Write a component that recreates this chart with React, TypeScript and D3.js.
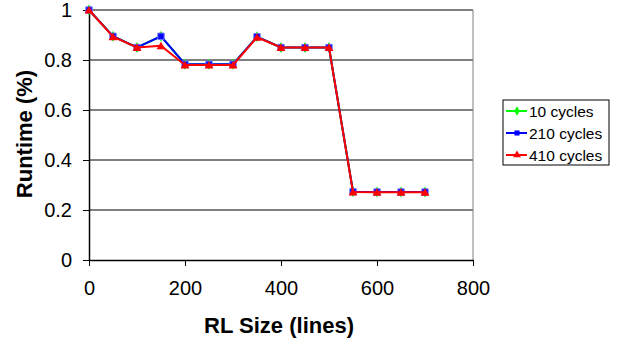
import { useEffect, useRef } from "react";
import * as d3 from "d3";

const sizes = [0, 50, 100, 150, 200, 250, 300, 350, 400, 450, 500, 550, 600, 650, 700];
const cycles10 = [1, 0.895, 0.85, 0.895, 0.783, 0.783, 0.783, 0.893, 0.85, 0.85, 0.85, 0.273, 0.272, 0.272, 0.272];
const cycles210 = [1, 0.895, 0.85, 0.895, 0.783, 0.783, 0.783, 0.893, 0.85, 0.85, 0.85, 0.273, 0.272, 0.272, 0.272];
const cycles410 = [1, 0.893, 0.85, 0.857, 0.78, 0.78, 0.78, 0.891, 0.85, 0.85, 0.85, 0.272, 0.271, 0.271, 0.271];
const xTicks = [0, 200, 400, 600, 800];
const yTicks = [0, 0.2, 0.4, 0.6, 0.8, 1];

const series = [
  { name: "10 cycles", values: cycles10, color: "#00ff00", marker: "diamond" },
  { name: "210 cycles", values: cycles210, color: "#0000ff", marker: "square" },
  { name: "410 cycles", values: cycles410, color: "#ff0000", marker: "triangle" },
];

export default function App() {
  const svgRef = useRef<SVGSVGElement | null>(null);

  useEffect(() => {
    if (!svgRef.current) return;
    const svg = d3.select(svgRef.current);
    svg.selectAll("*").remove();

    const left = 89, right = 473, top = 10, bottom = 260;
    const x = d3.scaleLinear().domain([0, 800]).range([left, right]);
    const y = d3.scaleLinear().domain([0, 1]).range([bottom, top]);
    const font = "Liberation Sans, Arial, sans-serif";

    // gridlines
    svg
      .append("g")
      .selectAll("line")
      .data(yTicks.filter((t) => t > 0))
      .join("line")
      .attr("x1", left)
      .attr("x2", right)
      .attr("y1", (d) => y(d))
      .attr("y2", (d) => y(d))
      .attr("stroke", "#000")
      .attr("stroke-width", 1);

    // right border
    svg
      .append("line")
      .attr("x1", right)
      .attr("x2", right)
      .attr("y1", top)
      .attr("y2", bottom)
      .attr("stroke", "#808080")
      .attr("stroke-width", 1);

    const xAxis = svg
      .append("g")
      .attr("transform", `translate(0,${bottom})`)
      .call(d3.axisBottom(x).tickValues(xTicks).tickSize(6).tickSizeOuter(0).tickPadding(15));
    xAxis.select(".domain").attr("stroke", "#000").attr("stroke-width", 1.5);
    xAxis.selectAll("line").attr("stroke", "#000");
    xAxis.selectAll("text").attr("font-size", 20).attr("font-family", font).attr("fill", "#000");

    const yAxis = svg
      .append("g")
      .attr("transform", `translate(${left},0)`)
      .call(
        d3
          .axisLeft(y)
          .tickValues(yTicks)
          .tickSize(6)
          .tickSizeOuter(0)
          .tickPadding(11)
          .tickFormat((d) => d3.format("")(+d)),
      );
    yAxis.select(".domain").attr("stroke", "#000").attr("stroke-width", 1.5);
    yAxis.selectAll("line").attr("stroke", "#000");
    yAxis.selectAll("text").attr("font-size", 20).attr("font-family", font).attr("fill", "#000");

    const line = d3
      .line<number>()
      .x((_, i) => x(sizes[i]))
      .y((d) => y(d));

    const symbolFor = (m: string) =>
      m === "square" ? d3.symbolSquare : m === "triangle" ? d3.symbolTriangle : d3.symbolDiamond;

    series.forEach((s) => {
      svg
        .append("path")
        .datum(s.values)
        .attr("d", line)
        .attr("fill", "none")
        .attr("stroke", s.color)
        .attr("stroke-width", 2);
      svg
        .append("g")
        .selectAll("path")
        .data(s.values)
        .join("path")
        .attr("transform", (d, i) => `translate(${x(sizes[i])},${y(d) + (s.marker === "triangle" ? 1 : 0)})`)
        .attr("d", d3.symbol().type(symbolFor(s.marker)).size(s.marker === "square" ? 40 : 34)())
        .attr("fill", s.color)
        .attr("stroke", s.marker === "square" ? "#6f6fff" : "none")
        .attr("stroke-width", 1);
    });

    // axis titles
    svg
      .append("text")
      .attr("x", (left + right) / 2 - 2)
      .attr("y", 333)
      .attr("text-anchor", "middle")
      .attr("font-family", font)
      .attr("font-weight", "bold")
      .attr("font-size", 22)
      .text("RL Size (lines)");
    svg
      .append("text")
      .attr("transform", `translate(32,${(top + bottom) / 2 - 1}) rotate(-90)`)
      .attr("text-anchor", "middle")
      .attr("font-family", font)
      .attr("font-weight", "bold")
      .attr("font-size", 22)
      .text("Runtime (%)");

    // legend
    const lg = svg.append("g").attr("transform", "translate(503,100)");
    lg.append("rect")
      .attr("width", 106)
      .attr("height", 65)
      .attr("fill", "#fff")
      .attr("stroke", "#000")
      .attr("stroke-width", 1);
    series.forEach((s, i) => {
      const cy = 11 + i * 22;
      lg.append("line")
        .attr("x1", 3)
        .attr("x2", 24)
        .attr("y1", cy)
        .attr("y2", cy)
        .attr("stroke", s.color)
        .attr("stroke-width", 2);
      lg.append("path")
        .attr("transform", `translate(14,${cy})`)
        .attr("d", d3.symbol().type(symbolFor(s.marker)).size(26)())
        .attr("fill", s.color);
      lg.append("text")
        .attr("x", 26)
        .attr("y", cy + 5.5)
        .attr("font-family", font)
        .attr("font-size", 15.5)
        .text(s.name);
    });
  }, []);

  return (
    <svg
      ref={svgRef}
      width={617}
      height={343}
      style={{ position: "absolute", left: 0, top: 0, background: "#fff" }}
    />
  );
}
